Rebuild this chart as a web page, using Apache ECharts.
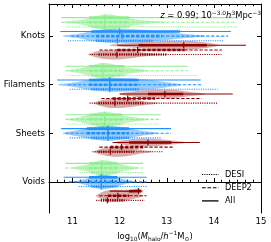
<!DOCTYPE html>
<html><head><meta charset="utf-8">
<script src="https://cdn.jsdelivr.net/npm/echarts@6/dist/echarts.min.js"></script>
<style>html,body{margin:0;padding:0;background:#fff}#c{width:271px;height:242px}</style>
</head><body><div id="c"></div>
<script>
const categories = ['Voids', 'Sheets', 'Filaments', 'Knots'];
const samples = ['All', 'DEEP2', 'DESI'];
const legendOrder = ['DESI', 'DEEP2', 'All'];
const xTicks = [11, 12, 13, 14, 15];
const catTicks = [0, 1, 2, 3];

// per row: [min, lo, median, hi, max]; order: green All/DEEP2/DESI, blue All/DEEP2/DESI, red All/DEEP2/DESI
const voidsStats = [
  [10.85, 11.35, 11.62, 11.95, 12.50],
  [10.85, 11.35, 11.62, 11.95, 12.50],
  [11.15, 11.40, 11.62, 11.95, 12.50],
  [10.81, 11.35, 11.61, 11.95, 12.57],
  [10.92, 11.35, 11.61, 11.95, 12.57],
  [11.13, 11.40, 11.61, 11.95, 12.57],
  [11.79, 12.20, 12.40, 12.46, 12.46],
  [11.57, 11.75, 11.96, 12.20, 12.57],
  [11.50, 11.60, 11.74, 12.10, 12.53]
];
const sheetsStats = [
  [10.85, 11.35, 11.68, 12.05, 12.87],
  [10.85, 11.35, 11.68, 12.05, 12.87],
  [10.90, 11.40, 11.68, 12.05, 12.85],
  [10.76, 11.30, 11.75, 12.20, 13.09],
  [10.85, 11.30, 11.75, 12.20, 13.09],
  [10.94, 11.40, 11.75, 12.20, 12.89],
  [11.85, 12.20, 12.60, 13.10, 13.70],
  [11.57, 11.80, 12.04, 12.50, 13.13],
  [11.42, 11.55, 11.80, 12.30, 12.91]
];
const filamentsStats = [
  [10.85, 11.35, 11.64, 12.10, 13.45],
  [10.85, 11.35, 11.64, 12.10, 13.45],
  [10.94, 11.40, 11.64, 12.10, 13.65],
  [10.67, 11.35, 11.79, 12.40, 13.72],
  [10.90, 11.35, 11.79, 12.40, 13.74],
  [10.94, 11.40, 11.79, 12.40, 14.08],
  [12.00, 12.60, 12.96, 13.35, 14.40],
  [11.61, 11.85, 12.17, 12.75, 13.74],
  [11.36, 11.55, 11.90, 12.50, 14.08]
];
const knotsStats = [
  [10.76, 11.35, 11.68, 12.20, 14.51],
  [10.76, 11.35, 11.68, 12.20, 14.48],
  [10.89, 11.40, 11.68, 12.20, 14.51],
  [10.74, 11.40, 12.00, 13.28, 14.36],
  [10.97, 11.50, 12.05, 12.90, 14.30],
  [10.90, 11.50, 11.95, 12.70, 14.20],
  [11.95, 12.40, 13.36, 13.85, 14.68],
  [11.57, 11.95, 12.38, 13.38, 14.17],
  [11.36, 11.55, 11.94, 13.00, 14.16]
];
const statsByCat = [voidsStats, sheetsStats, filamentsStats, knotsStats];

// violins: set (0 green,1 blue,2 red), row (0 All,1 DEEP2,2 DESI), x positions, relative density
const voidsViolins = [
  {set: 0, row: 1, x: [11.0, 11.3, 11.5, 11.65, 11.85, 12.1, 12.4], d: [0.06, 0.44, 0.81, 1.0, 0.81, 0.38, 0.06]},
  {set: 1, row: 1, x: [11.05, 11.3, 11.5, 11.65, 11.85, 12.05, 12.3], d: [0.06, 0.44, 0.81, 0.94, 0.75, 0.38, 0.06]},
  {set: 2, row: 1, x: [11.5, 11.7, 11.9, 12.1, 12.3, 12.5], d: [0.06, 0.62, 0.75, 0.62, 0.38, 0.06]},
  {set: 2, row: 0, x: [12.1, 12.3, 12.4, 12.5], d: [0.06, 0.25, 0.31, 0.06]}
];
const sheetsViolins = [
  {set: 0, row: 1, x: [10.9, 11.2, 11.45, 11.68, 11.9, 12.2, 12.6], d: [0.06, 0.38, 0.75, 1.0, 0.75, 0.38, 0.06]},
  {set: 1, row: 1, x: [10.8, 11.1, 11.4, 11.75, 12.1, 12.4, 12.8], d: [0.06, 0.38, 0.75, 0.94, 0.75, 0.38, 0.06]},
  {set: 2, row: 0, x: [11.9, 12.2, 12.5, 12.8, 13.1, 13.4], d: [0.06, 0.38, 0.5, 0.44, 0.25, 0.06]},
  {set: 2, row: 2, x: [11.45, 11.7, 11.95, 12.2, 12.5, 12.7], d: [0.06, 0.5, 0.62, 0.5, 0.19, 0.04]}
];
const filamentsViolins = [
  {set: 0, row: 1, x: [10.9, 11.2, 11.45, 11.65, 11.9, 12.2, 12.6], d: [0.06, 0.38, 0.75, 1.0, 0.75, 0.38, 0.06]},
  {set: 1, row: 1, x: [10.7, 11.0, 11.4, 11.8, 12.2, 12.6, 13.0, 13.3], d: [0.06, 0.25, 0.69, 0.88, 0.81, 0.62, 0.31, 0.06]},
  {set: 2, row: 0, x: [12.0, 12.3, 12.6, 12.9, 13.2, 13.5, 13.8], d: [0.06, 0.31, 0.5, 0.56, 0.5, 0.25, 0.06]},
  {set: 2, row: 2, x: [11.45, 11.7, 11.95, 12.2, 12.5, 12.8], d: [0.06, 0.5, 0.62, 0.5, 0.25, 0.06]}
];
const knotsViolins = [
  {set: 0, row: 1, x: [10.8, 11.2, 11.5, 11.7, 11.9, 12.2, 12.6, 13.0], d: [0.06, 0.31, 0.75, 1.0, 0.88, 0.5, 0.19, 0.04]},
  {set: 1, row: 1, x: [10.8, 11.1, 11.4, 11.8, 12.2, 12.6, 13.0, 13.4, 13.8], d: [0.06, 0.25, 0.62, 0.88, 0.88, 0.75, 0.5, 0.25, 0.06]},
  {set: 2, row: 0, x: [11.8, 12.2, 12.6, 13.0, 13.4, 13.8, 14.1], d: [0.06, 0.25, 0.44, 0.56, 0.56, 0.38, 0.06]},
  {set: 2, row: 2, x: [11.35, 11.6, 11.9, 12.2, 12.5, 12.8], d: [0.06, 0.5, 0.62, 0.5, 0.25, 0.06]}
];
const violinsByCat = [voidsViolins, sheetsViolins, filamentsViolins, knotsViolins];

// ---- styling ----
const ROW_STEP = 0.0951;      // y-units between adjacent rows
const VIOLIN_HW = 0.164;      // y-units half width at density 1
const lineColors = ['#90ee90', '#1e90ff', '#8b0000'];
const fillColors = ['rgba(144,238,144,0.6)', 'rgba(30,144,255,0.45)', 'rgba(139,0,0,0.33)'];
const dashes = [null, [3.3, 1.7], [1.1, 1.2]];
const legendDash = {DESI: [1.1, 1.2], DEEP2: [3.7, 1.7], All: null};
const FONT = 'DejaVu Sans';

function rowY(c, s, r) { return c + (4 - (s * 3 + r)) * ROW_STEP; }

const rowData = [];
statsByCat.forEach((st, c) => st.forEach((v, k) => rowData.push([c, Math.floor(k / 3), k % 3].concat(v))));
const violinList = [];
violinsByCat.forEach((vs, c) => vs.forEach(v => violinList.push(Object.assign({cat: c}, v))));
const violinData = violinList.map((v, i) => [v.cat, v.set, v.row, i]);

const chart = echarts.init(document.getElementById('c'), null, {renderer: 'canvas'});

const rich = {
  n: {fontSize: 8.4, fontFamily: FONT, fontWeight: 'normal', color: '#000', lineHeight: 12, verticalAlign: 'middle'},
  i: {fontSize: 8.4, fontFamily: FONT, fontWeight: 'normal', fontStyle: 'italic', color: '#000', lineHeight: 12, verticalAlign: 'middle'},
  sup: {fontSize: 5.9, fontFamily: FONT, fontWeight: 'normal', color: '#000', lineHeight: 12, verticalAlign: 'top'},
  sub: {fontSize: 5.9, fontFamily: FONT, fontWeight: 'normal', color: '#000', lineHeight: 12, verticalAlign: 'bottom'}
};

const baseAxis = {type: 'value', min: 10.5, max: 15, splitLine: {show: false}};

const legendGraphics = [];
legendOrder.forEach((name, i) => {
  const y = 174.5 + i * 13.2;
  legendGraphics.push({type: 'line', shape: {x1: 202, y1: y, x2: 218.5, y2: y},
    style: {stroke: '#000', lineWidth: name === 'All' ? 1.3 : 1.1, lineDash: legendDash[name]}});
  legendGraphics.push({type: 'text', x: 225, y: y,
    style: {text: name, fontSize: 8.2, fontFamily: FONT, fill: '#000', verticalAlign: 'middle', align: 'left'}});
});

const option = {
  animation: false,
  grid: {left: 49, right: 10, top: 4, bottom: 29, outerBoundsMode: 'none', containLabel: false},
  title: {
    text: '{i|z}{n| = 0.99; 10}{sup|−3.0}{i|h}{sup|3}{n|Mpc}{sup|−3}',
    right: 5, top: 5,
    textStyle: {fontWeight: 'normal', rich: rich}
  },
  graphic: legendGraphics,
  xAxis: [
    Object.assign({}, baseAxis, {
      position: 'bottom',
      axisLine: {show: true, lineStyle: {color: '#000', width: 1}},
      axisTick: {show: true, inside: true, length: 4, customValues: xTicks, lineStyle: {color: '#000'}},
      axisLabel: {customValues: xTicks, color: '#000', fontSize: 8.6, fontFamily: FONT, margin: 4},
      name: '{n|log}{sub|10}{n|(}{i|M}{sub|halo}{n|/}{i|h}{sup|−1}{n|M}{sub|⊙}{n|)}',
      nameLocation: 'middle', nameGap: 14,
      nameTextStyle: {rich: rich}
    }),
    Object.assign({}, baseAxis, {
      position: 'bottom', interval: 0.5,
      axisLine: {show: false},
      axisTick: {show: true, inside: true, length: 2.2, lineStyle: {color: '#000'}},
      minorTick: {show: true, splitNumber: 3, length: 2.2, lineStyle: {color: '#000'}},
      axisLabel: {show: false}
    }),
    Object.assign({}, baseAxis, {
      position: 'top',
      axisLine: {show: true, lineStyle: {color: '#000', width: 1}},
      axisTick: {show: true, inside: true, length: 4, customValues: xTicks, lineStyle: {color: '#000'}},
      axisLabel: {show: false}
    }),
    Object.assign({}, baseAxis, {
      position: 'top', interval: 0.5,
      axisLine: {show: false},
      axisTick: {show: true, inside: true, length: 2.2, lineStyle: {color: '#000'}},
      minorTick: {show: true, splitNumber: 3, length: 2.2, lineStyle: {color: '#000'}},
      axisLabel: {show: false}
    })
  ],
  yAxis: [
    {
      type: 'value', min: -0.64, max: 3.66, position: 'left',
      splitLine: {show: false},
      axisLine: {show: true, lineStyle: {color: '#000', width: 1}},
      axisTick: {show: true, inside: true, length: 4, customValues: catTicks, lineStyle: {color: '#000'}},
      axisLabel: {customValues: catTicks, color: '#000', fontSize: 8.6, fontFamily: FONT, margin: 4,
        formatter: v => categories[Math.round(v)]}
    },
    {
      type: 'value', min: -0.64, max: 3.66, position: 'right',
      splitLine: {show: false},
      axisLine: {show: true, lineStyle: {color: '#000', width: 1}},
      axisTick: {show: true, inside: true, length: 4, customValues: catTicks, lineStyle: {color: '#000'}},
      axisLabel: {show: false}
    }
  ],
  series: [
    {
      type: 'custom', name: 'violins', coordinateSystem: 'cartesian2d', xAxisIndex: 0, yAxisIndex: 0,
      data: violinData, silent: true, z: 1,
      renderItem: function (params, api) {
        const v = violinList[api.value(3)];
        const y = rowY(api.value(0), api.value(1), api.value(2));
        const top = [], bot = [];
        for (let i = 0; i < v.x.length; i++) {
          top.push(api.coord([v.x[i], y + v.d[i] * VIOLIN_HW]));
          bot.push(api.coord([v.x[i], y - v.d[i] * VIOLIN_HW]));
        }
        const pts = top.concat(bot.reverse());
        return {type: 'polygon', shape: {points: pts, smooth: 0.35},
          style: {fill: fillColors[v.set], stroke: 'none'}};
      }
    },
    {
      type: 'custom', name: 'rows', coordinateSystem: 'cartesian2d', xAxisIndex: 0, yAxisIndex: 0,
      data: rowData, silent: true, z: 2,
      renderItem: function (params, api) {
        const s = api.value(1), r = api.value(2);
        const y = rowY(api.value(0), s, r);
        const pMin = api.coord([api.value(3), y]);
        const pLo = api.coord([api.value(4), y]);
        const pMed = api.coord([api.value(5), y]);
        const pHi = api.coord([api.value(6), y]);
        const pMax = api.coord([api.value(7), y]);
        const col = lineColors[s];
        return {type: 'group', children: [
          {type: 'line', shape: {x1: pMin[0], y1: pMin[1], x2: pMax[0], y2: pMax[1]},
            style: {stroke: col, lineWidth: 1.1, lineDash: dashes[r]}},
          {type: 'line', shape: {x1: pLo[0], y1: pLo[1], x2: pHi[0], y2: pHi[1]},
            style: {stroke: col, lineWidth: 2.6, lineDash: dashes[r]}},
          {type: 'line', shape: {x1: pMed[0], y1: pMed[1] - 3, x2: pMed[0], y2: pMed[1] + 3},
            style: {stroke: col, lineWidth: 1.2}}
        ]};
      }
    }
  ]
};
chart.setOption(option);
</script></body></html>
